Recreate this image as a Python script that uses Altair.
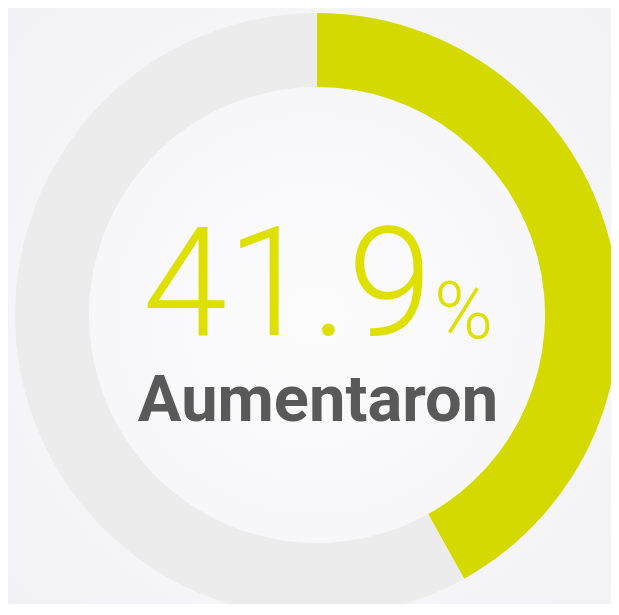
import altair as alt
import pandas as pd

# Data
categories = ["Aumentaron", "Resto"]
values = [41.9, 58.1]
order = [1, 2]
colors = ["#d4da00", "#ececec"]
label_value = "41.9"
label_pct = "%"
label_name = "Aumentaron"

W, H = 603, 596
CX, CY = 309, 307

df = pd.DataFrame({"category": categories, "value": values, "order": order})
one = pd.DataFrame({"k": [0]})

bg = alt.Chart(one).mark_rect(
    color={
        "gradient": "radial",
        "x1": CX / W, "y1": CY / H, "r1": 0.0,
        "x2": CX / W, "y2": CY / H, "r2": 0.75,
        "stops": [
            {"offset": 0.0, "color": "#fcfcfd"},
            {"offset": 0.5, "color": "#f7f7f9"},
            {"offset": 1.0, "color": "#f1f1f3"},
        ],
    }
).encode(
    x=alt.value(0), x2=alt.value(W), y=alt.value(0), y2=alt.value(H)
)

donut = alt.Chart(df).mark_arc(innerRadius=228, outerRadius=302).encode(
    theta=alt.Theta("value:Q", stack=True),
    color=alt.Color("category:N", scale=alt.Scale(domain=categories, range=colors), legend=None),
    order=alt.Order("order:Q"),
    x=alt.value(CX),
    y=alt.value(CY),
)

font = "Roboto, Liberation Sans, sans-serif"

num = alt.Chart(one).mark_text(
    text=label_value, font=font, fontSize=152, fontWeight=300,
    color="#dde000", align="right", baseline="alphabetic"
).encode(x=alt.value(424), y=alt.value(327))

pct = alt.Chart(one).mark_text(
    text=label_pct, font=font, fontSize=80, fontWeight=300,
    color="#dde000", align="left", baseline="alphabetic"
).encode(x=alt.value(426), y=alt.value(330))

name = alt.Chart(one).mark_text(
    text=label_name, font=font, fontSize=65, fontWeight="bold",
    color="#595959", align="center", baseline="alphabetic"
).encode(x=alt.value(310), y=alt.value(413))

chart = alt.layer(bg, donut, num, pct, name).properties(
    width=W, height=H, padding=0, autosize=alt.AutoSizeParams(type="none"),
    background="#f4f4f6",
).configure_view(stroke=None)

chart.save("out.html", embed_options={"renderer": "svg", "actions": False})
